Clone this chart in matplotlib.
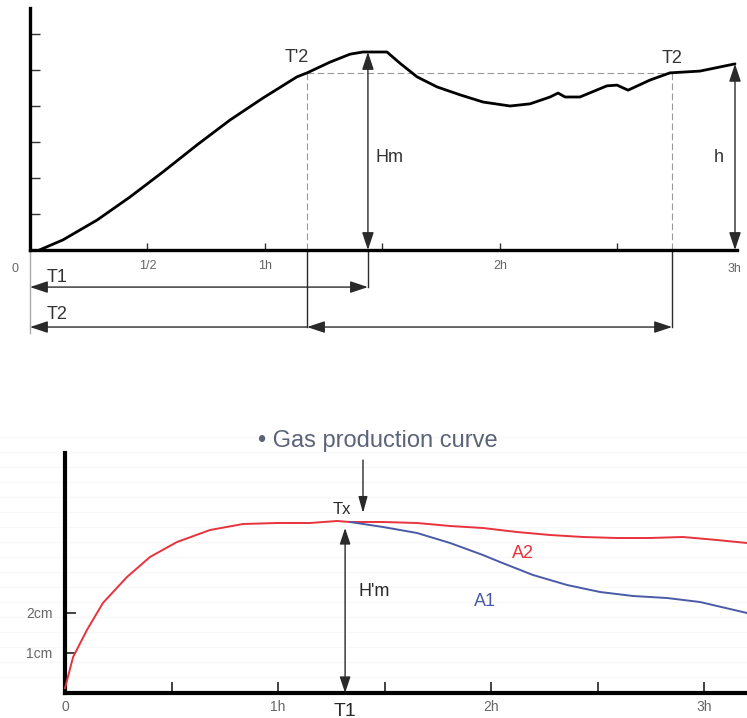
import numpy as np
import matplotlib
matplotlib.use("Agg")
import matplotlib.pyplot as plt

plt.rcParams['font.family'] = ['Liberation Sans', 'DejaVu Sans']

# top chart: foam height (arbitrary units) against time (hours)
foam_t = [0.04, 0.14, 0.285, 0.425, 0.566, 0.711, 0.851, 0.991, 1.136, 1.179, 1.277,
          1.362, 1.417, 1.519, 1.574, 1.647, 1.732, 1.83, 1.928, 2.043, 2.128, 2.213,
          2.247, 2.277, 2.34, 2.455, 2.498, 2.545, 2.638, 2.723, 2.851, 3.0]
foam_h = [0.0, 0.28, 0.83, 1.47, 2.17, 2.92, 3.61, 4.22, 4.81, 4.92, 5.22,
          5.44, 5.5, 5.5, 5.19, 4.81, 4.53, 4.31, 4.11, 4.0, 4.06, 4.25,
          4.36, 4.25, 4.25, 4.56, 4.58, 4.44, 4.72, 4.92, 4.97, 5.17]
top_ticks = [0.5, 1.0, 1.5, 2.0, 2.5]
top_ticklabels = ['1/2', '1h', '', '2h', '']
t_prime2, t2, t_hm, h_end = 1.179, 2.732, 1.438, 3.0
level_t2, hm_top, h_top = 4.92, 5.5, 5.17

# bottom chart: gas production (cm) against time (hours)
a2_t = [0.0, 0.038, 0.103, 0.178, 0.291, 0.399, 0.526, 0.681, 0.836, 0.995, 1.15,
        1.277, 1.338, 1.493, 1.653, 1.808, 1.962, 2.122, 2.277, 2.432, 2.592, 2.746,
        2.901, 3.061, 3.202]
a2_h = [0.12, 0.9, 1.575, 2.25, 2.9, 3.4, 3.775, 4.075, 4.225, 4.25, 4.25,
        4.3, 4.275, 4.275, 4.25, 4.175, 4.125, 4.025, 3.95, 3.9, 3.875, 3.875,
        3.9, 3.825, 3.75]
a1_t = [1.338, 1.493, 1.653, 1.808, 1.962, 2.042, 2.197, 2.357, 2.512, 2.667, 2.826,
        2.981, 3.202]
a1_h = [4.275, 4.15, 4.0, 3.75, 3.45, 3.275, 2.95, 2.7, 2.525, 2.425, 2.375,
        2.275, 2.0]
bot_xticks = [0, 0.5, 1.0, 1.5, 2.0, 2.5, 3.0]
bot_xlabels = ['0', '', '1h', '', '2h', '', '3h']
bot_yticks = [1, 2]
bot_ylabels = ['1cm', '2cm']
t1_b, tx_arrow, hpm_top = 1.315, 1.399, 4.125

RED = '#e8323c'
BLUE = '#4b5aa6'
DARK = '#2a2a2a'
GREY = '#666666'

fig = plt.figure(figsize=(7.47, 7.18), dpi=100)

# ---------- top chart ----------
ax = fig.add_axes([0, 373 / 718, 1, 345 / 718])
ax.set_xlim(-30 / 235, 717 / 235)
ax.set_ylim(-95 / 36, 250 / 36)
for s in ['top', 'right']:
    ax.spines[s].set_visible(False)
ax.spines['left'].set_position(('data', 0))
ax.spines['bottom'].set_position(('data', 0))
ax.spines['left'].set_bounds(0, 6.72)
ax.spines['bottom'].set_bounds(0, 3.01)
ax.spines['left'].set_linewidth(2.4)
ax.spines['bottom'].set_linewidth(2.4)
ax.set_yticks([1, 2, 3, 4, 5, 6])
ax.set_yticklabels([])
ax.tick_params(axis='y', direction='in', length=7, width=1, color='#333')
ax.set_xticks(top_ticks)
ax.set_xticklabels(top_ticklabels)
ax.tick_params(axis='x', direction='in', length=5, width=1, color='#333',
               labelsize=9, labelcolor=GREY, pad=7)
ax.text(-0.064, -0.35, '0', fontsize=9, color=GREY, ha='center', va='top')
ax.text(3.0, -0.35, '3h', fontsize=9, color=GREY, ha='center', va='top')

ax.plot(foam_t, foam_h, color='black', lw=2, solid_capstyle='round',
        solid_joinstyle='round', zorder=3)

# reference level and drop lines
ax.plot([t_prime2, t2], [level_t2, level_t2], color='#999', lw=0.8, ls=(0, (6, 3)))
ax.plot([t_prime2, t_prime2], [level_t2, 0], color='#999', lw=0.8, ls=(0, (6, 3)))
ax.plot([t2, t2], [level_t2, 0], color='#999', lw=0.8, ls=(0, (6, 3)))
ax.plot([t_prime2, t_prime2], [0, -2.14], color=DARK, lw=1)
ax.plot([t2, t2], [0, -2.14], color=DARK, lw=1)
ax.plot([t_hm, t_hm], [0, -1.03], color=DARK, lw=1)
ax.plot([0, 0], [0, -2.3], color='#aaa', lw=1)

arr2 = dict(arrowstyle='<|-|>,head_length=0.9,head_width=0.3', color=DARK, lw=1,
            mutation_scale=12, shrinkA=0, shrinkB=0)
arr1 = dict(arrowstyle='-|>,head_length=0.9,head_width=0.3', color=DARK, lw=1,
            mutation_scale=12, shrinkA=0, shrinkB=0)
ax.annotate('', xy=(t_hm, hm_top), xytext=(t_hm, 0), arrowprops=arr2)
ax.annotate('', xy=(h_end, h_top), xytext=(h_end, 0), arrowprops=arr2)
ax.annotate('', xy=(0, -1.03), xytext=(t_hm, -1.03), arrowprops=arr2)
ax.annotate('', xy=(0, -2.14), xytext=(t_prime2, -2.14), arrowprops=arr1)
ax.annotate('', xy=(t_prime2, -2.14), xytext=(t2, -2.14), arrowprops=arr2)

lab = dict(fontsize=13, color='#333')
ax.text(1.136, 5.36, "T'2", ha='center', va='center', **lab)
ax.text(2.732, 5.33, 'T2', ha='center', va='center', **lab)
ax.text(1.47, 2.58, 'Hm', ha='left', va='center', **lab)
ax.text(2.93, 2.58, 'h', ha='center', va='center', **lab)
ax.text(0.115, -0.75, 'T1', ha='center', va='center', **lab)
ax.text(0.115, -1.8, 'T2', ha='center', va='center', **lab)

# ---------- bottom chart ----------
bx = fig.add_axes([0, 0, 1, 373 / 718])
bx.set_xlim(-65 / 213, 682 / 213)
bx.set_ylim(-25 / 40, 348 / 40)
for y in np.arange(0.4, 6.5, 0.375):
    bx.axhline(y, color='#f8f8f8', lw=0.8, zorder=0)
for s in ['top', 'right']:
    bx.spines[s].set_visible(False)
bx.spines['left'].set_position(('data', 0))
bx.spines['bottom'].set_position(('data', 0))
bx.spines['left'].set_bounds(0, 6.0)
bx.spines['bottom'].set_bounds(0, 3.3)
bx.spines['left'].set_linewidth(3)
bx.spines['bottom'].set_linewidth(3)
bx.set_yticks(bot_yticks)
bx.set_yticklabels(bot_ylabels)
bx.tick_params(axis='y', direction='in', length=8, width=1.3, color='#333',
               labelsize=10, labelcolor=GREY, pad=9)
bx.set_xticks(bot_xticks)
bx.set_xticklabels(bot_xlabels)
bx.tick_params(axis='x', direction='in', length=8, width=1.3, color='#333',
               labelsize=10, labelcolor=GREY, pad=5)

bx.plot(a2_t, a2_h, color=RED, lw=1.4, solid_joinstyle='round', zorder=3)
bx.plot(a1_t, a1_h, color=BLUE, lw=1.4, solid_joinstyle='round', zorder=3)

arr2b = dict(arrowstyle='<|-|>,head_length=0.9,head_width=0.3', color=DARK, lw=1,
             mutation_scale=11, shrinkA=0, shrinkB=0)
arr1b = dict(arrowstyle='-|>,head_length=0.9,head_width=0.25', color=DARK, lw=1,
             mutation_scale=11, shrinkA=0, shrinkB=0)
bx.annotate('', xy=(t1_b, hpm_top), xytext=(t1_b, 0), arrowprops=arr2b)
bx.annotate('', xy=(tx_arrow, 4.5), xytext=(tx_arrow, 5.825), arrowprops=arr1b)

bx.text(1.30, 4.575, 'Tx', fontsize=12, color=DARK, ha='center', va='center')
bx.text(1.376, 2.525, "H'm", fontsize=13, color=DARK, ha='left', va='center')
bx.text(t1_b, -0.45, 'T1', fontsize=14, color=DARK, ha='center', va='center')
bx.text(2.15, 3.5, 'A2', fontsize=13, color=RED, ha='center', va='center')
bx.text(1.97, 2.275, 'A1', fontsize=13, color=BLUE, ha='center', va='center')
bx.text(0.906, 6.3, '\u2022 Gas production curve', fontsize=17, color='#5a6378',
        ha='left', va='center')

fig.savefig('out.png', dpi=100)
